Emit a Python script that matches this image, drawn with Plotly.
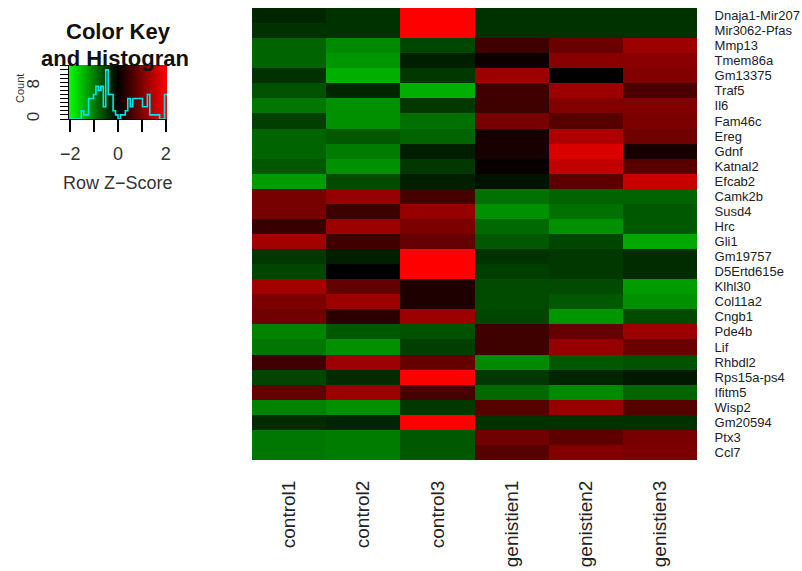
import numpy as np
import plotly.graph_objects as go

genes = ["Dnaja1-Mir207", "Mir3062-Pfas", "Mmp13", "Tmem86a", "Gm13375", "Traf5", "Il6",
         "Fam46c", "Ereg", "Gdnf", "Katnal2", "Efcab2", "Camk2b", "Susd4", "Hrc", "Gli1",
         "Gm19757", "D5Ertd615e", "Klhl30", "Col11a2", "Cngb1", "Pde4b", "Lif", "Rhbdl2",
         "Rps15a-ps4", "Ifitm5", "Wisp2", "Gm20594", "Ptx3", "Ccl7"]
samples = ["control1", "control2", "control3", "genistien1", "genistien2", "genistien3"]

# Row z-scores, one list per sample (top row first)
control1 = [-0.3, -0.4, -0.8, -0.8, -0.4, -0.65, -0.95, -0.5, -0.8, -0.8, -0.7, -1.25, 0.95, 0.95, 0.45,
            1.3, -0.45, -0.55, 1.3, 1.0, 0.9, -1.05, -0.95, 0.5, -0.55, 0.8, -1.05, -0.35, -0.95, -0.95]
control2 = [-0.4, -0.4, -1.1, -1.2, -1.4, -0.3, -1.15, -1.15, -0.7, -1.0, -1.15, -0.6, 1.2, 0.5, 1.25,
            0.5, -0.25, 0.0, 0.8, 1.25, 0.35, -0.7, -1.15, 1.25, -0.35, 1.25, -1.15, -0.3, -1.0, -1.0]
control3 = [2.04, 2.04, -0.55, -0.25, -0.45, -1.4, -0.45, -0.9, -0.8, -0.25, -0.45, -0.25, 0.55, 1.2, 1.0,
            0.8, 2.04, 2.04, 0.25, 0.25, 1.25, -0.65, -0.5, 0.8, 2.04, 0.55, -0.45, 2.04, -0.7, -0.7]
genistien1 = [-0.4, -0.4, 0.5, 0.1, 1.25, 0.5, 0.5, 0.95, 0.2, 0.2, 0.05, -0.15, -0.9, -1.15, -0.85,
              -0.7, -0.4, -0.5, -0.6, -0.6, -0.55, 0.5, 0.5, -1.1, -0.45, -0.85, 0.7, -0.4, 0.9, 0.7]
genistien2 = [-0.4, -0.4, 0.85, 1.1, 0.0, 1.25, 1.05, 0.7, 1.4, 1.75, 1.55, 0.75, -0.8, -0.9, -1.15,
              -0.55, -0.45, -0.45, -0.6, -0.7, -1.2, 0.8, 1.2, -0.7, -0.3, -1.1, 1.2, -0.4, 0.75, 1.05]
genistien3 = [-0.4, -0.4, 1.25, 1.1, 1.05, 0.6, 1.05, 1.0, 0.9, 0.2, 0.7, 1.6, -0.8, -0.7, -0.7,
              -1.35, -0.35, -0.35, -1.25, -1.15, -0.6, 1.25, 0.85, -0.65, -0.2, -0.8, 0.7, -0.4, 0.95, 1.0]

# Color key histogram (counts per bin, bins spanning -2.05..2.05)
hist_counts = [0, 0, 0, 0, 0, 2, 1, 1, 5, 5, 6, 8, 7, 8, 3, 12, 6, 6, 2, 1,
               0, 1, 1, 2, 5, 3, 5, 5, 5, 5, 3, 3, 6, 1, 1, 1, 1, 0, 0, 6]
key_lo, key_hi = -2.05, 2.05
key_ticks = [-2, -1, 0, 1, 2]
key_ticktext = ["\u22122", "", "0", "", "2"]
count_max = 13.2

FONT = "Arial, Liberation Sans, sans-serif"
W, H = 802, 571
cs = [[0, "#00FF00"], [0.5, "#000000"], [1, "#FF0000"]]

z = np.array([control1, control2, control3, genistien1, genistien2, genistien3]).T

fig = go.Figure()
fig.add_trace(go.Heatmap(z=z, x=samples, y=genes, colorscale=cs, zmin=-2.04, zmax=2.04,
                         showscale=False, xaxis="x", yaxis="y", hoverinfo="skip"))

# key gradient
edges = np.linspace(key_lo, key_hi, 201)
centers = (edges[:-1] + edges[1:]) / 2
fig.add_trace(go.Heatmap(z=[centers], x=edges, y=[0, count_max], colorscale=cs,
                         zmin=-2.04, zmax=2.04, showscale=False, xaxis="x2", yaxis="y2",
                         hoverinfo="skip"))
hedges = np.linspace(key_lo, key_hi, len(hist_counts) + 1)
fig.add_trace(go.Scatter(x=hedges, y=hist_counts + [hist_counts[-1]], mode="lines",
                         line=dict(color="#00E5E5", width=1.6, shape="hv"),
                         xaxis="x2", yaxis="y2", hoverinfo="skip"))

fig.update_layout(
    width=W, height=H, margin=dict(l=0, r=0, t=0, b=0, autoexpand=False),
    paper_bgcolor="white", plot_bgcolor="white", showlegend=False,
    font=dict(family=FONT, color="black"),
    xaxis=dict(domain=[252 / W, 697 / W], anchor="y", tickangle=-90, showgrid=False,
               zeroline=False, showline=False, ticks="outside", ticklen=0, automargin=False,
               tickmode="array", tickvals=samples, ticktext=samples,
               ticklabelstandoff=12, tickfont=dict(size=19, family=FONT, color="#222")),
    yaxis=dict(domain=[1 - 460 / H, 1 - 8 / H], anchor="x", side="right",
               autorange="reversed", showgrid=False, zeroline=False, showline=False,
               tickmode="array", tickvals=genes, ticktext=genes,
               ticks="outside", ticklen=0, ticklabelstandoff=14, automargin=False,
               tickfont=dict(size=13, family=FONT, color="#222")),
    xaxis2=dict(domain=[69 / W, 167 / W], anchor="y2", range=[key_lo, key_hi],
                tickvals=key_ticks, ticktext=key_ticktext, ticks="outside", ticklen=12,
                tickwidth=1.5, tickcolor="black", showline=True, linecolor="black",
                linewidth=1, showgrid=False, zeroline=False, ticklabelstandoff=6,
                automargin=False, tickfont=dict(size=18, family=FONT, color="#333")),
    yaxis2=dict(domain=[1 - 119 / H, 1 - 65 / H], anchor="x2", range=[0, count_max],
                tickvals=list(range(0, 14)),
                ticktext=["0" if v == 0 else ("8" if v == 8 else "") for v in range(0, 14)],
                ticks="outside", ticklen=8, tickwidth=1.2, tickcolor="black",
                showline=True, linecolor="black", showgrid=False, zeroline=False,
                tickangle=-90, ticklabelstandoff=14, automargin=False,
                tickfont=dict(size=17, family=FONT, color="#333")),
    annotations=[
        dict(text="<b>Color Key</b>", x=118 / W, y=1 - 31 / H, xref="paper", yref="paper",
             showarrow=False, font=dict(size=22, family=FONT, color="#111"),
             xanchor="center", yanchor="middle"),
        dict(text="<b>and Histogran</b>", x=115 / W, y=1 - 58 / H, xref="paper", yref="paper",
             showarrow=False, font=dict(size=22, family=FONT, color="#111"),
             xanchor="center", yanchor="middle"),
        dict(text="Row Z\u2212Score", x=118 / W, y=1 - 183 / H, xref="paper", yref="paper",
             showarrow=False, font=dict(size=18, family=FONT, color="#333"),
             xanchor="center", yanchor="middle"),
        dict(text="Count", x=20 / W, y=1 - 89 / H, xref="paper", yref="paper",
             showarrow=False, textangle=-90, font=dict(size=11, family=FONT, color="#333"),
             xanchor="center", yanchor="middle"),
    ],
)

fig.write_html("out.html", config={"displayModeBar": False},
               post_script="document.body.style.margin='0px';")
